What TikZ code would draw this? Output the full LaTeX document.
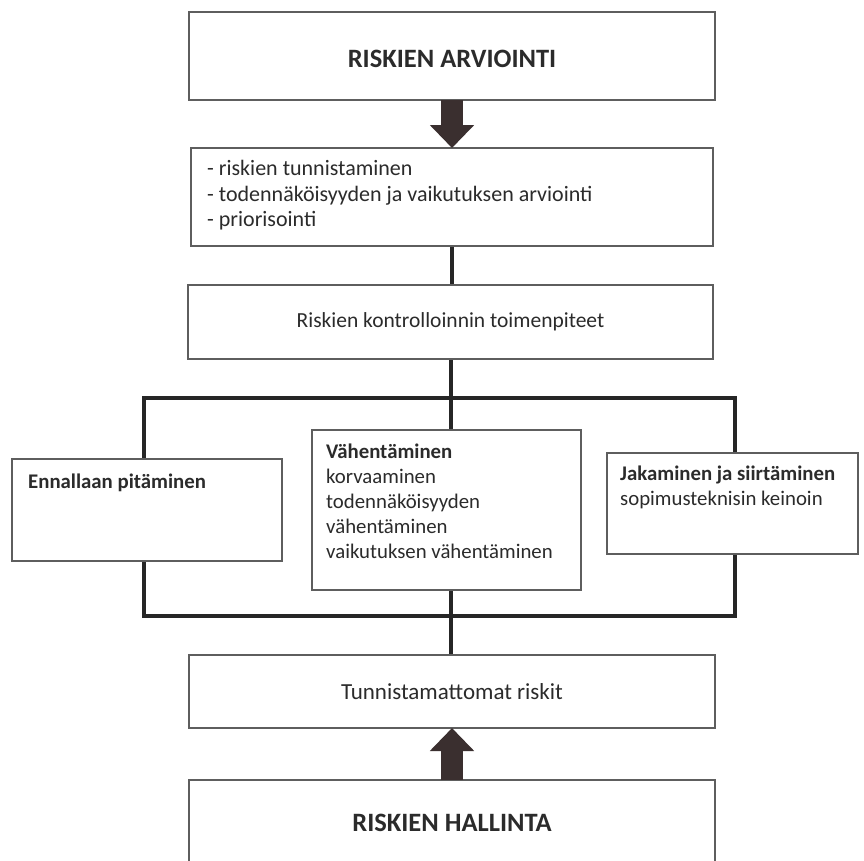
\documentclass[tikz,border=0pt]{standalone}
\usepackage{fontspec}
\setmainfont{Carlito}
\usetikzlibrary{arrows.meta,backgrounds}
\definecolor{boxline}{HTML}{5E5E5E}
\definecolor{linkline}{HTML}{262626}
\definecolor{arrowfill}{HTML}{3A2F2F}
\definecolor{txtcol}{HTML}{2B2B2B}
\newcommand{\titlefont}{\fontsize{26.5}{30}\selectfont\bfseries}
\newcommand{\bodyfont}{\fontsize{20.8}{25}\selectfont}
\newcommand{\listfont}{\fontsize{22}{25.5}\selectfont}
\tikzset{
  box/.style={draw=boxline, line width=1.5pt, fill=white, anchor=north west,
    inner sep=0pt, outer sep=0pt, text=txtcol},
  txt/.style={anchor=north west, inner sep=0pt, align=left, text=txtcol, font=\bodyfont},
  link/.style={draw=linkline, line width=4pt},
  holder/.style={draw=linkline, line width=4pt, anchor=north west, inner sep=0pt, outer sep=0pt},
  bigarrow/.style={draw=arrowfill, line width=22pt, -{Triangle[width=43pt,length=23pt]}}
}
\begin{document}
\begin{tikzpicture}[x=1pt,y=-1pt]
\useasboundingbox (0,0) rectangle (864,860);

\node[box, minimum width=526pt, minimum height=88pt, font=\titlefont, text height=22pt, text depth=0pt] (assess) at (189,12) {RISKIEN ARVIOINTI};
\node[box, minimum width=522pt, minimum height=98pt] (steps) at (191,148) {};
\node[txt, font=\listfont] (stepstxt) at ([shift={(16,12.5)}]steps.north west)
  {- riskien tunnistaminen\\- todennäköisyyden ja vaikutuksen arviointi\\- priorisointi};
\node[box, minimum width=525pt, minimum height=74pt, font=\fontsize{21.5}{25}\selectfont] (control) at (188,285) {Riskien kontrolloinnin toimenpiteet};

\node[box, minimum width=270pt, minimum height=102pt] (keep) at (12,459) {};
\node[txt, font=\bodyfont\bfseries] (keeptxt) at ([shift={(16,14.5)}]keep.north west) {Ennallaan pitäminen};
\node[box, minimum width=269pt, minimum height=160pt] (reduce) at (312,430) {};
\node[txt] (reducetxt) at ([shift={(14,13.5)}]reduce.north west)
  {\textbf{Vähentäminen}\\korvaaminen\\todennäköisyyden\\vähentäminen\\vaikutuksen vähentäminen};
\node[box, minimum width=251pt, minimum height=101pt] (share) at (607,453) {};
\node[txt] (sharetxt) at ([shift={(13,12.5)}]share.north west)
  {\textbf{Jakaminen ja siirtäminen}\\sopimusteknisin keinoin};

\node[box, minimum width=526pt, minimum height=73pt, font=\fontsize{23}{26}\selectfont] (unknown) at (189,655) {Tunnistamattomat riskit};
\node[box, minimum width=526pt, minimum height=86pt, font=\titlefont] (manage) at (189,780) {RISKIEN HALLINTA};

\draw[bigarrow] (assess.south) -- (assess.south |- steps.north);
\draw[bigarrow] (manage.north) -- (manage.north |- unknown.south);

\begin{scope}[on background layer]
\fill[white] (0,0) rectangle (864,860);
\node[holder, minimum width=591pt, minimum height=218pt] (holder) at (144,398) {};
\draw[link] (steps.south) -- (steps.south |- control.north);
\draw[link] (control.south) -- (control.south |- unknown.north);
\end{scope}
\end{tikzpicture}
\end{document}
